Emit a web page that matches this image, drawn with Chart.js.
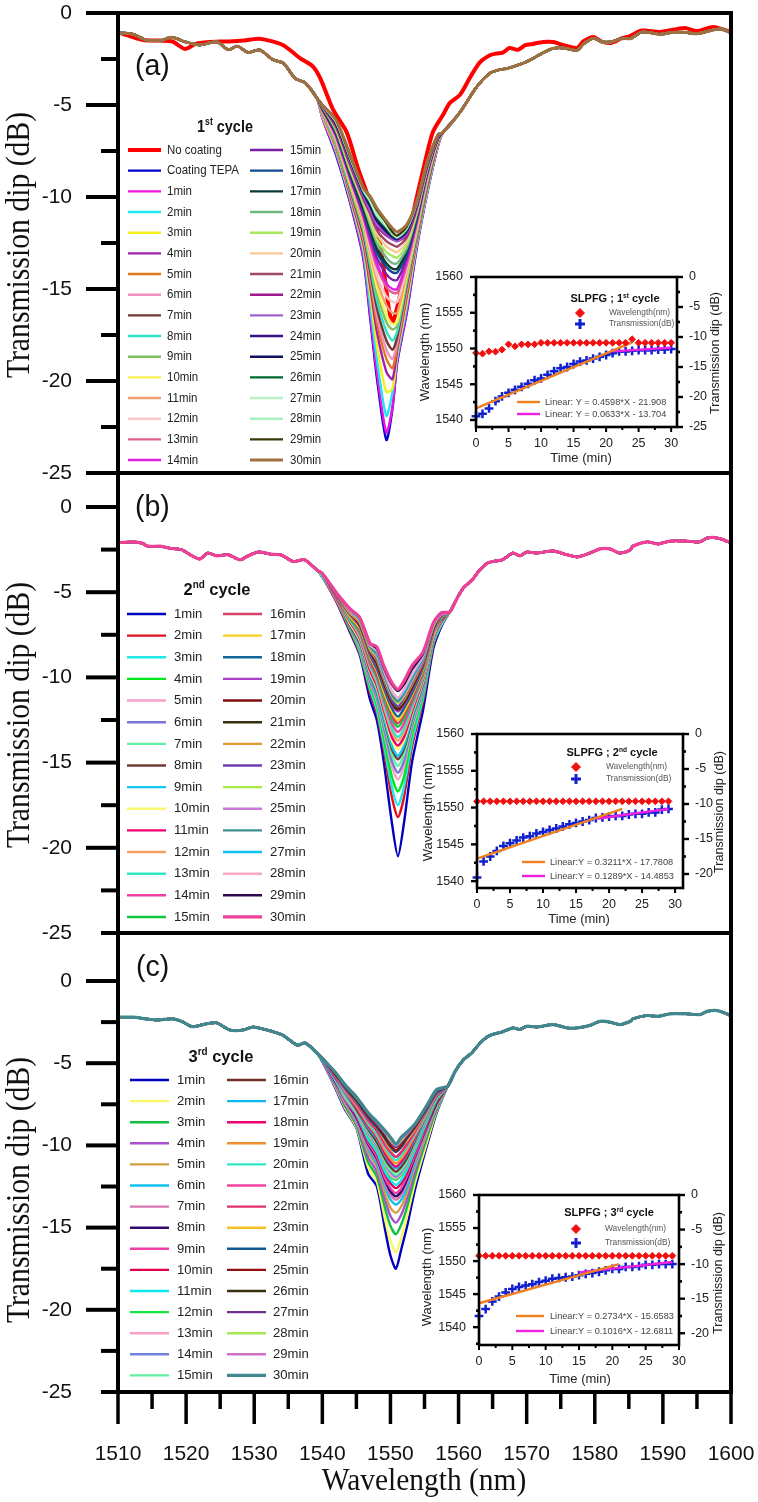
<!DOCTYPE html>
<html>
<head>
<meta charset="utf-8">
<title>SLPFG transmission dip</title>
<script src="https://cdn.jsdelivr.net/npm/chart.js@4/dist/chart.umd.min.js"></script>
<style>
html,body{margin:0;padding:0;background:#fff}
#wrap{position:relative;width:758px;height:1502px;overflow:hidden}
canvas{position:absolute;left:0;top:0}
</style>
</head>
<body>
<div id="wrap"></div>
<script>
// values. the curves inside the dense bundles
// overlap, so only their depth (from the insets) and the outer edges are really readable
const yTicks = [-25,-22.5,-20,-17.5,-15,-12.5,-10,-7.5,-5,-2.5,0];
const xTicks = [1510,1515,1520,1525,1530,1535,1540,1545,1550,1555,1560,1565,1570,1575,1580,1585,1590,1595,1600];
const insetWlTicks = [1537.5,1540,1542.5,1545,1547.5,1550,1552.5,1555,1557.5,1560];
const insetDipTicks = [-25,-22.5,-20,-17.5,-15,-12.5,-10,-7.5,-5,-2.5,0];
const insetTimeTicks = [0,2.5,5,7.5,10,12.5,15,17.5,20,22.5,25,27.5,30];

// ---- panel a
const labelsA = ['No coating','Coating TEPA','1min','2min','3min','4min','5min','6min','7min','8min','9min','10min','11min','12min','13min','14min','15min','16min','17min','18min','19min','20min','21min','22min','23min','24min','25min','26min','27min','28min','29min','30min'];
const colorsA = ['#ff0000','#0000cc','#f012e0','#22e6f0','#f4f020','#a020b0','#e07820','#f090c0','#6b3a30','#30e0c8','#80c060','#f8f050','#f0a070','#f8c8c8','#e06090','#e020e0','#7a20a0','#104a90','#083a38','#70b880','#a8e860','#f8c898','#a04868','#a01890','#a060d0','#38108a','#101060','#006830','#b8f0c8','#a8f0c0','#383808','#a07040'];
const wlLeftA = [1510,1512.2,1514.2,1516.2,1517.9,1519.8,1522,1524.5,1526.2,1527.5,1529.1,1530.8,1532.8,1534.3,1536,1537.5,1539.2];
const leftA = [-1.07,-1.15,-1.47,-1.5,-1.32,-1.56,-1.74,-1.56,-2,-1.8,-2.15,-2,-2.55,-2.73,-3.55,-3.8,-4.62];
const wlDipA = [1540,1542,1544,1546,1547,1548,1549.4,1550.3,1551,1552.4,1553.9,1555.4,1557];
const wlRightA = [1557.7,1560.2,1562.7,1564.6,1565.8,1567.3,1569.5,1571,1572.5,1573.9,1575.4,1577.4,1578.3,1579.8,1581,1582.5,1584,1585.2,1586.9,1588.6,1589.6,1591.5,1593.2,1595,1597.4,1598.7,1600];
const rightA = [-6.5,-5.4,-4,-3.27,-3.1,-3,-2.73,-2.45,-2.14,-1.92,-1.9,-2.03,-1.7,-1.37,-1.56,-1.56,-1.37,-1.4,-1.04,-1.1,-1.16,-1.05,-1.05,-1.13,-0.92,-0.87,-1.08];
const wlRedA = [1510,1513.7,1516,1518,1519.8,1521.6,1525,1526.4,1528.5,1530.8,1534.2,1536.7,1538.6,1539.7,1541.6,1543.6,1545.2,1547,1548.6,1550.2,1551.7,1553,1554.5,1556.2,1557.7,1558.7,1560.2,1561.7,1563.1,1564.6,1565.6,1566.5,1567.5,1568.7,1569.8,1570.9,1572.4,1573.9,1575.4,1577.4,1578.3,1579.8,1581,1582.5,1584,1585.2,1586.9,1589.6,1593.2,1595,1597.4,1600];
const redA = [-1.05,-1.47,-1.5,-1.55,-1.95,-1.65,-1.55,-1.55,-1.5,-1.4,-1.74,-2.45,-2.9,-3.55,-5.27,-6.5,-8.4,-10.3,-12.8,-16.8,-14.8,-11.5,-9,-6.5,-5.55,-4.9,-4.45,-3.5,-2.7,-2.3,-2.2,-2.15,-1.9,-2,-1.75,-1.68,-1.58,-1.58,-1.75,-1.9,-1.55,-1.3,-1.56,-1.62,-1.37,-1.25,-0.95,-1.03,-0.82,-0.98,-0.76,-1.03];
const dipA = [
[-5.7,-7.7,-10.2,-13.3,-16.5,-19.8,-23.2,-21.5,-19.0,-16.3,-12.7,-9.8,-7.2],
[-5.7,-7.6,-10.1,-13.2,-16.3,-19.5,-22.8,-21.4,-18.9,-16.2,-12.6,-9.7,-7.2],
[-5.6,-7.5,-10.0,-12.9,-15.8,-18.8,-21.9,-20.6,-18.7,-15.9,-12.5,-9.7,-7.1],
[-5.6,-7.4,-9.9,-12.7,-15.2,-18.0,-20.6,-20.4,-18.5,-15.7,-12.4,-9.6,-7.1],
[-5.5,-7.3,-9.8,-12.5,-14.8,-17.3,-19.5,-19.9,-18.3,-15.4,-12.3,-9.5,-7.0],
[-5.5,-7.3,-9.7,-12.3,-14.5,-16.8,-18.8,-19.3,-18.1,-15.2,-12.2,-9.4,-7.0],
[-5.5,-7.2,-9.6,-12.2,-14.2,-16.4,-18.3,-18.8,-17.9,-15.0,-12.1,-9.3,-7.0],
[-5.4,-7.1,-9.5,-12.0,-14.0,-16.0,-17.8,-18.3,-17.6,-14.8,-12.0,-9.3,-7.0],
[-5.4,-7.1,-9.4,-11.8,-13.7,-15.6,-17.3,-17.8,-17.3,-14.6,-11.9,-9.2,-6.9],
[-5.4,-7.0,-9.3,-11.7,-13.5,-15.2,-16.8,-17.2,-17.0,-14.4,-11.8,-9.1,-6.9],
[-5.3,-6.9,-9.2,-11.5,-13.2,-14.9,-16.4,-16.9,-16.8,-14.3,-11.7,-9.0,-6.9],
[-5.3,-6.9,-9.1,-11.4,-13.0,-14.5,-15.9,-16.3,-16.3,-14.1,-11.6,-9.0,-6.9],
[-5.3,-6.8,-9.0,-11.2,-12.8,-14.2,-15.4,-15.7,-15.7,-13.9,-11.5,-8.9,-6.9],
[-5.3,-6.7,-8.9,-11.1,-12.5,-13.8,-14.9,-15.2,-15.2,-13.7,-11.4,-8.8,-6.8],
[-5.2,-6.7,-8.9,-11.0,-12.4,-13.6,-14.7,-15.0,-15.0,-13.5,-11.3,-8.8,-6.8],
[-5.2,-6.6,-8.8,-10.9,-12.1,-13.3,-14.2,-14.5,-14.5,-13.3,-11.2,-8.7,-6.8],
[-5.2,-6.5,-8.7,-10.7,-11.9,-13.0,-13.8,-14.1,-14.1,-13.1,-11.1,-8.6,-6.8],
[-5.2,-6.5,-8.6,-10.6,-11.7,-12.8,-13.6,-13.9,-13.9,-12.9,-11.0,-8.6,-6.8],
[-5.1,-6.4,-8.5,-10.4,-11.5,-12.5,-13.3,-13.6,-13.6,-12.8,-10.9,-8.5,-6.7],
[-5.1,-6.3,-8.4,-10.3,-11.3,-12.3,-13.0,-13.2,-13.3,-12.6,-10.8,-8.5,-6.7],
[-5.1,-6.2,-8.3,-10.2,-11.1,-12.0,-12.7,-12.9,-13.0,-12.4,-10.7,-8.4,-6.7],
[-5.1,-6.2,-8.2,-10.1,-10.9,-11.8,-12.4,-12.6,-12.7,-12.2,-10.6,-8.4,-6.7],
[-5.0,-6.1,-8.1,-10.0,-10.8,-11.6,-12.1,-12.3,-12.4,-12.1,-10.5,-8.3,-6.7],
[-5.0,-6.0,-8.0,-9.9,-10.7,-11.5,-12.0,-12.3,-12.4,-12.0,-10.4,-8.3,-6.6],
[-5.0,-6.0,-7.9,-9.8,-10.5,-11.3,-11.9,-12.2,-12.3,-11.9,-10.4,-8.2,-6.6],
[-5.0,-6.0,-7.9,-9.7,-10.4,-11.2,-11.8,-12.1,-12.2,-11.8,-10.3,-8.2,-6.6],
[-5.0,-5.9,-7.8,-9.7,-10.3,-11.1,-11.7,-12.1,-12.2,-11.8,-10.3,-8.2,-6.6],
[-5.0,-5.9,-7.8,-9.6,-10.2,-11.0,-11.6,-12.0,-12.2,-11.7,-10.3,-8.1,-6.6],
[-5.0,-5.9,-7.7,-9.6,-10.2,-10.9,-11.5,-12.0,-12.1,-11.7,-10.2,-8.1,-6.6],
[-5.0,-5.8,-7.7,-9.5,-10.0,-10.7,-11.4,-11.9,-12.1,-11.6,-10.2,-8.1,-6.6],
[-5.0,-5.8,-7.6,-9.5,-9.95,-10.6,-11.3,-11.7,-11.9,-11.5,-10.2,-8.1,-6.6]
];

// ---- panel b
const labelsB = ['1min','2min','3min','4min','5min','6min','7min','8min','9min','10min','11min','12min','13min','14min','15min','16min','17min','18min','19min','20min','21min','22min','23min','24min','25min','26min','27min','28min','29min','30min'];
const colorsB = ['#0000c0','#e01020','#20e8e8','#00e820','#f8a0c8','#7878d8','#60f0a0','#703c38','#10c8f0','#f8f870','#f00070','#f8a060','#30e8c8','#f040a0','#10c840','#d84068','#f8d020','#106898','#a840c8','#801010','#383010','#e09830','#7040b0','#a8e840','#c878d8','#409090','#10c0f0','#f8a8c8','#300850','#f04098'];
const wlLeftB = [1510,1511.8,1513.5,1514.4,1516.2,1517.6,1519.4,1520.6,1522,1523.2,1524.5,1526.2,1527.9,1529.1,1530.6,1532.3,1534,1535.7,1537.4,1539.2];
const leftB = [-2.1,-2.05,-2.12,-2.3,-2.3,-2.42,-2.52,-2.8,-3.05,-2.7,-2.87,-2.8,-3.1,-2.87,-2.64,-2.76,-2.82,-3.2,-3.1,-3.7];
const wlDipB = [1540,1542,1544,1545.5,1547,1548,1549,1550.2,1551.1,1552,1553.2,1554.8,1556.3,1557.5];
const wlRightB = [1558.7,1559.8,1560.7,1562,1563.1,1564.2,1565,1566.4,1568,1569,1570,1571.5,1573.9,1575.9,1577.5,1579.3,1580.8,1582.2,1583.7,1585.2,1585.6,1587.7,1589.3,1591,1593.5,1595.4,1596.5,1598,1600];
const rightB = [-6.16,-5.34,-4.75,-4.28,-3.7,-3.3,-3.2,-3.1,-2.7,-2.87,-2.64,-2.7,-2.58,-2.8,-2.93,-2.7,-2.46,-2.46,-2.7,-2.52,-2.3,-2.05,-2.17,-2,-2,-2.05,-1.82,-1.82,-2.1];
const dipB = [
[-4.1,-5.5,-7.3,-8.7,-11.3,-12.5,-14.9,-18.5,-20.5,-18.5,-14.9,-11.9,-8.3,-7.0],
[-4.1,-5.5,-7.2,-8.6,-10.9,-12.1,-14.2,-17.0,-18.2,-17.0,-14.0,-11.4,-8.1,-6.9],
[-4.1,-5.4,-7.1,-8.5,-10.7,-11.9,-13.9,-16.4,-17.5,-16.4,-13.7,-11.2,-8.0,-6.9],
[-4.0,-5.4,-7.1,-8.4,-10.5,-11.6,-13.5,-15.8,-16.7,-15.8,-13.3,-11.0,-7.9,-6.8],
[-4.0,-5.4,-7.0,-8.3,-10.3,-11.4,-13.1,-15.2,-16.0,-15.2,-13.0,-10.8,-7.8,-6.8],
[-4.0,-5.4,-7.0,-8.2,-10.2,-11.2,-12.9,-14.9,-15.6,-14.9,-12.8,-10.7,-7.8,-6.7],
[-4.0,-5.3,-6.9,-8.1,-10.0,-11.0,-12.6,-14.5,-15.2,-14.5,-12.6,-10.5,-7.7,-6.7],
[-4.0,-5.3,-6.9,-8.0,-9.9,-10.9,-12.4,-14.2,-14.8,-14.2,-12.4,-10.4,-7.7,-6.7],
[-4.0,-5.3,-6.8,-7.9,-9.8,-10.8,-12.3,-14.0,-14.6,-14.0,-12.3,-10.3,-7.6,-6.6],
[-4.0,-5.3,-6.8,-7.8,-9.7,-10.6,-12.0,-13.7,-14.2,-13.7,-12.1,-10.2,-7.6,-6.6],
[-4.0,-5.3,-6.7,-7.7,-9.6,-10.5,-11.9,-13.5,-14.0,-13.5,-12.0,-10.1,-7.5,-6.6],
[-4.0,-5.2,-6.6,-7.6,-9.4,-10.3,-11.7,-13.2,-13.7,-13.2,-11.8,-10.0,-7.5,-6.5],
[-4.0,-5.2,-6.6,-7.5,-9.3,-10.2,-11.5,-13.0,-13.5,-13.0,-11.7,-9.9,-7.4,-6.5],
[-3.9,-5.2,-6.5,-7.4,-9.2,-10.0,-11.3,-12.7,-13.2,-12.7,-11.5,-9.8,-7.4,-6.5],
[-3.9,-5.2,-6.5,-7.3,-9.0,-9.9,-11.1,-12.4,-12.9,-12.4,-11.3,-9.7,-7.3,-6.5],
[-3.9,-5.2,-6.4,-7.2,-8.9,-9.8,-10.9,-12.2,-12.7,-12.2,-11.2,-9.6,-7.3,-6.4],
[-3.9,-5.1,-6.4,-7.1,-8.8,-9.6,-10.8,-12.0,-12.5,-12.0,-11.0,-9.5,-7.2,-6.4],
[-3.9,-5.1,-6.3,-7.0,-8.7,-9.5,-10.6,-11.8,-12.3,-11.8,-10.9,-9.4,-7.2,-6.4],
[-3.9,-5.1,-6.3,-7.0,-8.6,-9.3,-10.4,-11.6,-12.0,-11.6,-10.7,-9.3,-7.1,-6.4],
[-3.9,-5.1,-6.2,-6.9,-8.5,-9.2,-10.3,-11.5,-11.9,-11.5,-10.6,-9.2,-7.1,-6.3],
[-3.9,-5.1,-6.2,-6.8,-8.4,-9.1,-10.2,-11.4,-11.8,-11.4,-10.5,-9.1,-7.1,-6.3],
[-3.9,-5.1,-6.2,-6.8,-8.4,-9.0,-10.1,-11.3,-11.7,-11.3,-10.4,-9.1,-7.0,-6.3],
[-3.9,-5.1,-6.1,-6.7,-8.3,-8.9,-10.0,-11.3,-11.7,-11.2,-10.3,-9.0,-7.0,-6.3],
[-3.9,-5.0,-6.1,-6.7,-8.3,-8.8,-9.9,-11.1,-11.5,-11.1,-10.2,-8.9,-7.0,-6.3],
[-3.9,-5.0,-6.1,-6.6,-8.2,-8.7,-9.8,-11.0,-11.4,-11.0,-10.1,-8.9,-6.9,-6.3],
[-3.9,-5.0,-6.0,-6.6,-8.2,-8.6,-9.7,-11.0,-11.4,-10.9,-10.0,-8.8,-6.9,-6.2],
[-3.9,-5.0,-6.0,-6.6,-8.1,-8.5,-9.6,-10.8,-11.2,-10.8,-9.9,-8.8,-6.9,-6.2],
[-3.9,-5.0,-6.0,-6.5,-8.1,-8.4,-9.5,-10.8,-11.2,-10.7,-9.8,-8.7,-6.9,-6.2],
[-3.9,-5.0,-5.95,-6.5,-8.0,-8.3,-9.4,-10.4,-10.8,-10.4,-9.5,-8.6,-6.8,-6.2],
[-3.9,-5.0,-5.95,-6.5,-8.0,-8.2,-9.3,-10.3,-10.7,-10.2,-9.3,-8.5,-6.8,-6.2]
];

// ---- panel c
const labelsC = labelsB.slice();
const colorsC = ['#0000c0','#f8f860','#10c040','#a850d0','#d0a040','#10c0f0','#d878b0','#300870','#f040a8','#e00050','#10e8f0','#10e840','#f8a0c8','#7080e0','#60f0a0','#703028','#10b8f0','#f00070','#f09030','#30e8c8','#f040a0','#e03070','#f8c020','#105890','#901010','#383010','#703090','#a8e850','#d070c8','#408890'];
const wlLeftC = [1510,1512.2,1514,1515.9,1517.9,1519.4,1520.9,1523,1524.5,1526.4,1528.4,1529.8,1531.9,1534.2,1536.3,1537.5,1539.2];
const leftC = [-2.2,-2.2,-2.3,-2.37,-2.3,-2.47,-2.78,-2.6,-2.55,-2.98,-2.98,-2.8,-2.98,-3.3,-3.9,-3.77,-4.38];
const wlDipC = [1540,1542,1543.3,1545,1546.7,1548,1549.2,1550,1550.8,1551.6,1552.4,1553.6,1555.3,1556.8];
const wlRightC = [1558.4,1559.5,1560.7,1562,1563.1,1564.2,1565,1566.4,1568,1569,1570,1571.5,1573.9,1575.9,1577.5,1579.3,1580.8,1582.2,1583.7,1585.2,1585.6,1587.7,1589.3,1591,1593.5,1595.4,1596.5,1598,1600];
const rightC = [-6.4,-5.5,-4.8,-4.35,-3.8,-3.4,-3.25,-3.1,-2.85,-2.95,-2.75,-2.8,-2.65,-2.85,-2.85,-2.7,-2.45,-2.5,-2.65,-2.45,-2.3,-2.1,-2.15,-2,-2,-2.05,-1.85,-1.8,-2.1];
const dipC = [
[-4.9,-6.6,-7.8,-8.95,-11.7,-12.5,-15.1,-16.7,-17.5,-16.3,-15.0,-12.7,-10.1,-8.0],
[-4.9,-6.5,-7.7,-8.9,-11.3,-12.2,-14.5,-15.8,-16.5,-15.6,-14.4,-12.3,-9.9,-7.9],
[-4.9,-6.4,-7.6,-8.8,-11.0,-11.9,-13.8,-14.9,-15.4,-14.8,-13.8,-11.9,-9.6,-7.8],
[-4.9,-6.4,-7.5,-8.7,-10.7,-11.6,-13.3,-14.3,-14.7,-14.2,-13.3,-11.6,-9.4,-7.7],
[-4.8,-6.3,-7.4,-8.6,-10.4,-11.3,-12.9,-13.8,-14.1,-13.7,-12.9,-11.3,-9.3,-7.6],
[-4.8,-6.2,-7.3,-8.5,-10.2,-11.1,-12.5,-13.3,-13.6,-13.3,-12.6,-11.1,-9.1,-7.5],
[-4.8,-6.2,-7.3,-8.4,-10.1,-10.9,-12.3,-13.0,-13.3,-13.0,-12.3,-10.9,-9.0,-7.4],
[-4.8,-6.2,-7.2,-8.3,-9.9,-10.8,-12.1,-12.8,-13.1,-12.8,-12.1,-10.7,-8.9,-7.4],
[-4.8,-6.1,-7.2,-8.2,-9.8,-10.7,-12.0,-12.6,-12.9,-12.6,-11.9,-10.6,-8.8,-7.3],
[-4.8,-6.1,-7.1,-8.2,-9.7,-10.5,-11.7,-12.3,-12.6,-12.3,-11.7,-10.4,-8.7,-7.3],
[-4.8,-6.1,-7.1,-8.1,-9.6,-10.4,-11.6,-12.1,-12.4,-12.1,-11.5,-10.3,-8.6,-7.2],
[-4.8,-6.0,-7.0,-8.0,-9.4,-10.2,-11.3,-11.9,-12.1,-11.8,-11.3,-10.1,-8.5,-7.2],
[-4.8,-6.0,-7.0,-8.0,-9.3,-10.1,-11.2,-11.8,-12.0,-11.7,-11.2,-10.0,-8.4,-7.1],
[-4.8,-6.0,-6.9,-7.9,-9.2,-10.0,-11.1,-11.6,-11.9,-11.6,-11.1,-9.9,-8.4,-7.1],
[-4.8,-5.9,-6.9,-7.9,-9.1,-9.9,-11.0,-11.5,-11.8,-11.5,-11.0,-9.8,-8.3,-7.1],
[-4.8,-5.9,-6.8,-7.8,-9.0,-9.8,-10.8,-11.3,-11.6,-11.3,-10.8,-9.7,-8.2,-7.0],
[-4.8,-5.9,-6.8,-7.7,-8.9,-9.6,-10.6,-11.1,-11.4,-11.1,-10.6,-9.6,-8.2,-7.0],
[-4.7,-5.9,-6.7,-7.7,-8.8,-9.5,-10.5,-11.0,-11.3,-11.0,-10.5,-9.5,-8.1,-7.0],
[-4.7,-5.8,-6.7,-7.6,-8.7,-9.4,-10.3,-10.8,-11.1,-10.8,-10.3,-9.4,-8.1,-6.9],
[-4.7,-5.8,-6.6,-7.5,-8.6,-9.3,-10.1,-10.6,-10.9,-10.6,-10.1,-9.3,-8.0,-6.9],
[-4.7,-5.8,-6.6,-7.5,-8.5,-9.1,-10.0,-10.4,-10.7,-10.4,-10.0,-9.2,-7.9,-6.9],
[-4.7,-5.8,-6.5,-7.4,-8.4,-9.1,-9.9,-10.4,-10.7,-10.4,-9.9,-9.1,-7.9,-6.8],
[-4.7,-5.7,-6.5,-7.3,-8.3,-8.9,-9.7,-10.2,-10.4,-10.1,-9.7,-9.0,-7.8,-6.8],
[-4.7,-5.7,-6.5,-7.3,-8.3,-8.9,-9.6,-10.1,-10.4,-10.1,-9.6,-8.9,-7.8,-6.8],
[-4.7,-5.7,-6.4,-7.2,-8.2,-8.8,-9.5,-10.0,-10.3,-10.0,-9.5,-8.9,-7.7,-6.7],
[-4.7,-5.7,-6.4,-7.2,-8.1,-8.7,-9.4,-9.8,-10.1,-9.8,-9.4,-8.8,-7.7,-6.7],
[-4.7,-5.6,-6.4,-7.1,-8.1,-8.7,-9.3,-9.8,-10.1,-9.8,-9.4,-8.8,-7.7,-6.7],
[-4.7,-5.6,-6.3,-7.1,-8.0,-8.6,-9.2,-9.7,-10.0,-9.7,-9.3,-8.7,-7.6,-6.6],
[-4.7,-5.6,-6.3,-7.05,-8.0,-8.6,-9.2,-9.6,-10.0,-9.6,-9.3,-8.7,-7.6,-6.6],
[-4.7,-5.6,-6.3,-7.05,-8.0,-8.55,-9.1,-9.5,-9.9,-9.5,-9.2,-8.7,-7.6,-6.6]
];

// ---- insets
const timeA = [0,1,2,3,4,5,6,7,8,9,10,11,12,13,14,15,16,17,18,19,20,21,22,23,24,25,26,27,28,29,30];
const wlInA = [1549.37,1549.28,1549.6,1549.56,1549.84,1550.58,1550.3,1550.58,1550.58,1550.58,1550.8,1550.8,1550.8,1550.8,1550.8,1550.8,1550.8,1550.8,1550.8,1550.8,1550.8,1550.8,1550.8,1550.8,1551.3,1550.8,1550.8,1550.8,1550.8,1550.8,1550.8];
const dipInA = [-23.2,-22.8,-21.9,-20.7,-19.9,-19.3,-18.8,-18.3,-17.8,-17.2,-16.9,-16.3,-15.7,-15.2,-15,-14.5,-14.1,-13.9,-13.6,-13.3,-13,-12.7,-12.4,-12.4,-12.3,-12.2,-12.2,-12.2,-12.1,-12.1,-12];
const fit1XA = [0,24], fit1YA = [-21.9,-10.9], fit2XA = [21,30], fit2YA = [-12.4,-11.8];

const timeB = [0,1,2,3,4,5,6,7,8,9,10,11,12,13,14,15,16,17,18,19,20,21,22,23,24,25,26,27,28,29];
const wlInB = [1550.85,1550.85,1550.85,1550.85,1550.85,1550.85,1550.85,1550.85,1550.85,1550.85,1550.85,1550.85,1550.85,1550.85,1550.85,1550.85,1550.85,1550.85,1550.85,1550.85,1550.85,1550.85,1550.85,1550.85,1550.85,1550.85,1550.85,1550.85,1550.85,1550.85];
const dipInB = [-20.5,-18.2,-17.5,-16.7,-16,-15.6,-15.2,-14.8,-14.6,-14.2,-14,-13.7,-13.5,-13.2,-12.9,-12.7,-12.5,-12.3,-12,-11.9,-11.8,-11.7,-11.7,-11.5,-11.4,-11.4,-11.2,-11.2,-10.8,-10.7];
const fit1XB = [0,22], fit1YB = [-17.8,-10.7], fit2XB = [18,29], fit2YB = [-12.1,-10.7];

const timeC = timeB.slice();
const wlInC = [1550.8,1550.8,1550.8,1550.8,1550.8,1550.8,1550.8,1550.8,1550.8,1550.8,1550.8,1550.8,1550.8,1550.8,1550.8,1550.8,1550.8,1550.8,1550.8,1550.8,1550.8,1550.8,1550.8,1550.8,1550.8,1550.8,1550.8,1550.8,1550.8,1550.8];
const dipInC = [-17.5,-16.5,-15.4,-14.7,-14.1,-13.6,-13.3,-13.1,-12.9,-12.6,-12.4,-12.1,-12,-11.9,-11.8,-11.6,-11.4,-11.3,-11.1,-10.9,-10.7,-10.7,-10.4,-10.4,-10.3,-10.1,-10.1,-10,-10,-10];
const fit1XC = [0,21], fit1YC = [-15.66,-10], fit2XC = [15,29], fit2YC = [-11.2,-9.7];

const SANS = '"Liberation Sans", Arial, sans-serif';
const SERIF = '"Liberation Serif", "Times New Roman", serif';

function txt(ctx, s, x, y, font, o) {
  o = o || {};
  ctx.save();
  ctx.translate(x, y);
  if (o.rot) ctx.rotate(o.rot);
  ctx.scale(o.sx || 1, o.sy || 1);
  ctx.font = font;
  ctx.fillStyle = o.color || '#111';
  ctx.textAlign = o.align || 'left';
  ctx.textBaseline = 'middle';
  ctx.fillText(s, 0, 0);
  ctx.restore();
}

// "1st cycle" style title, centred on cx
function supTitle(ctx, parts, cx, cy, size, sx) {
  ctx.save();
  ctx.font = 'bold ' + size + 'px ' + SANS;
  const w1 = ctx.measureText(parts[0]).width, w3 = ctx.measureText(parts[2]).width;
  ctx.font = 'bold ' + (size * 0.6) + 'px ' + SANS;
  const w2 = ctx.measureText(parts[1]).width;
  ctx.restore();
  let x = cx - (w1 + w2 + w3) * sx / 2;
  txt(ctx, parts[0], x, cy, 'bold ' + size + 'px ' + SANS, {sx: sx});
  x += w1 * sx;
  txt(ctx, parts[1], x, cy - size * 0.3, 'bold ' + (size * 0.6) + 'px ' + SANS, {sx: sx});
  x += w2 * sx;
  txt(ctx, parts[2], x, cy, 'bold ' + size + 'px ' + SANS, {sx: sx});
}

function hline(ctx, x1, x2, y, w, c) {
  ctx.strokeStyle = c || '#000'; ctx.lineWidth = w;
  ctx.beginPath(); ctx.moveTo(x1, y); ctx.lineTo(x2, y); ctx.stroke();
}
function vline(ctx, x, y1, y2, w, c) {
  ctx.strokeStyle = c || '#000'; ctx.lineWidth = w;
  ctx.beginPath(); ctx.moveTo(x, y1); ctx.lineTo(x, y2); ctx.stroke();
}

const panelPlugin = {
  id: 'panelDecor',
  afterDatasetsDraw(chart, args, o) {
    const ctx = chart.ctx, a = chart.chartArea, sy = chart.scales.y, sx = chart.scales.x;
    ctx.save();
    ctx.lineCap = 'butt';
    // frame
    vline(ctx, a.left, a.top - 2, a.bottom + 2, 4);
    vline(ctx, a.right, a.top - 2, a.bottom + 2, 4);
    hline(ctx, a.left, a.right + 2, a.bottom, 4);
    if (o.topLine) hline(ctx, a.left, a.right + 2, a.top, 4);
    yTicks.forEach(v => {
      const y = sy.getPixelForValue(v);
      const major = v % 5 === 0 && !(v === -25 && o.shortBottom);
      hline(ctx, major ? 86 : 101, a.left, y, 4);
    });
    if (o.xAxis) {
      xTicks.forEach(v => {
        const x = sx.getPixelForValue(v);
        vline(ctx, x, a.bottom, a.bottom + (v % 10 === 0 ? 32 : 17), 3.5);
      });
      txt(ctx, 'Wavelength (nm)', 424, 1482, '32px ' + SERIF, {align: 'center', sx: 0.92});
    }
    txt(ctx, 'Transmission dip (dB)', 20, o.titleY, '33px ' + SERIF, {align: 'center', rot: -Math.PI / 2, sx: 0.9});
    txt(ctx, o.tag, o.tagX, o.tagY, '30px ' + SANS, {sx: 0.95});
    // legend built from the datasets
    supTitle(ctx, o.cycle, o.cycleX, o.cycleY, o.cycleSize, o.textSx);
    chart.data.datasets.forEach((d, i) => {
      const col = i < o.rows ? o.col1 : o.col2;
      const y = o.rowY + (i % o.rows) * o.rowH;
      hline(ctx, col[0], col[1], y, d.borderWidth, d.borderColor);
      txt(ctx, d.label, col[2], y, o.textSize + 'px ' + SANS, {sx: o.textSx, color: '#222'});
    });
    ctx.restore();
  }
};

const insetPlugin = {
  id: 'insetDecor',
  afterDatasetsDraw(chart, args, o) {
    const ctx = chart.ctx, a = chart.chartArea, s = chart.scales;
    ctx.save();
    ctx.strokeStyle = '#000'; ctx.lineWidth = 2.6;
    ctx.strokeRect(a.left, a.top, a.right - a.left, a.bottom - a.top);
    insetWlTicks.forEach(v => {
      const y = s.y.getPixelForValue(v);
      if (y > a.bottom + 1) return;
      if (v % 5 === 0) hline(ctx, a.left - 6, a.left, y, 2.4);
      else hline(ctx, a.left - 3, a.left, y, 2.6);
    });
    insetDipTicks.forEach(v => {
      const y = s.y2.getPixelForValue(v);
      if (y > a.bottom + 1) return;
      if (v % 5 === 0) hline(ctx, a.right, a.right + 6, y, 2.4);
      else hline(ctx, a.right, a.right + 3, y, 2.6);
    });
    insetTimeTicks.forEach(v => {
      const x = s.x.getPixelForValue(v);
      vline(ctx, x, a.bottom, a.bottom + (v % 5 === 0 ? 5 : 3), 2);
    });
    txt(ctx, 'Wavelength (nm)', o.leftX, o.leftY, '13px ' + SANS, {align: 'center', rot: -Math.PI / 2, color: '#222'});
    txt(ctx, 'Transmission dip (dB)', o.rightX, o.rightY, '12.6px ' + SANS, {align: 'center', rot: -Math.PI / 2, color: '#222'});
    txt(ctx, 'Time (min)', o.timeX, o.timeY, '13px ' + SANS, {align: 'center', color: '#222'});
    supTitle(ctx, o.cycle, o.cycleX, o.cycleY, 11, 1);
    const red = chart.data.datasets[3], blue = chart.data.datasets[2];
    ctx.fillStyle = red.backgroundColor; ctx.strokeStyle = red.borderColor; ctx.lineWidth = 1;
    Chart.helpers.drawPoint(ctx, {pointStyle: 'rectRot', radius: 4.5, borderWidth: 1, rotation: 0}, o.markX, o.markY[0]);
    ctx.strokeStyle = blue.borderColor; ctx.lineWidth = 3;
    Chart.helpers.drawPoint(ctx, {pointStyle: 'cross', radius: 5, borderWidth: 3, rotation: 0}, o.markX, o.markY[1]);
    txt(ctx, 'Wavelength(nm)', o.labX, o.markY[0], '8.4px ' + SANS, {color: '#555'});
    txt(ctx, 'Transmission(dB)', o.labX, o.markY[1], '8.4px ' + SANS, {color: '#555'});
    hline(ctx, o.lineX[0], o.lineX[1], o.lineY[0], 2.4, '#f08020');
    hline(ctx, o.lineX[0], o.lineX[1], o.lineY[1], 2.4, '#f020e0');
    txt(ctx, o.fits[0], o.fitX, o.lineY[0], '9.2px ' + SANS, {color: '#444'});
    txt(ctx, o.fits[1], o.fitX, o.lineY[1], '9.2px ' + SANS, {color: '#444'});
    ctx.restore();
  }
};

function newCanvas() {
  const c = document.createElement('canvas');
  c.width = 758; c.height = 1502;
  c.style.width = '758px'; c.style.height = '1502px';
  document.getElementById('wrap').appendChild(c);
  return c;
}

// pin a scale to a fixed size so the chart area lands where the figure has it.
// the padding has to go too or long tick paddings push the plot area inwards
function pinScale(size) {
  return s => {
    if (s.isHorizontal()) s.height = size; else s.width = size;
    s.paddingLeft = s.paddingRight = s.paddingTop = s.paddingBottom = 0;
  };
}

function pts(xs, ys) { return xs.map((x, i) => ({x: x, y: ys[i]})); }

function curve(wlL, valL, wlD, valD, wlR, valR) {
  return pts(wlL.concat(wlD, wlR), valL.concat(valD, valR));
}

function mainChart(px, datasets, decor) {
  const N = datasets.length;
  datasets.forEach((d, i) => { d.order = N - i; });
  new Chart(newCanvas(), {
    type: 'line',
    data: {datasets: datasets},
    plugins: [panelPlugin],
    options: {
      responsive: false, animation: false, devicePixelRatio: 1,
      layout: {padding: {left: 0, right: 27, top: px.top, bottom: 0}},
      elements: {point: {radius: 0}, line: {tension: 0.25, borderCapStyle: 'round', borderJoinStyle: 'round'}},
      plugins: {legend: {display: false}, tooltip: {enabled: false}, panelDecor: decor},
      scales: {
        x: {type: 'linear', min: 1510, max: 1600, afterFit: pinScale(1502 - px.bottom),
            afterBuildTicks: s => { s.ticks = xTicks.filter(v => v % 10 === 0).map(v => ({value: v})); },
            grid: {display: false, drawTicks: false}, border: {display: false},
            ticks: {display: !!decor.xAxis, padding: 50, autoSkip: false, maxRotation: 0, color: '#111', font: {family: SANS, size: 21}, callback: v => String(v)}},
        y: {type: 'linear', min: -25, max: px.ymax, afterFit: pinScale(118),
            afterBuildTicks: s => { s.ticks = yTicks.filter(v => v % 5 === 0).map(v => ({value: v})); },
            grid: {display: false, drawTicks: false}, border: {display: false},
            ticks: {padding: 46, autoSkip: false, color: '#111', font: {family: SANS, size: 21}}}
      }
    }
  });
}

function insetChart(px, time, wl, dip, fit1x, fit1y, fit2x, fit2y, decor) {
  new Chart(newCanvas(), {
    type: 'scatter',
    data: {datasets: [
      {label: 'Linear1', data: pts(fit1x, fit1y), yAxisID: 'y2', showLine: true, borderColor: '#f08020', borderWidth: 2.4, pointRadius: 0, order: 1},
      {label: 'Linear2', data: pts(fit2x, fit2y), yAxisID: 'y2', showLine: true, borderColor: '#f020e0', borderWidth: 2.4, pointRadius: 0, order: 2},
      {label: 'Transmission(dB)', data: pts(time, dip), yAxisID: 'y2', pointStyle: 'cross', pointRadius: 4.4, pointBorderWidth: 2.5, borderColor: '#1020d0', backgroundColor: '#1020d0', order: 3},
      {label: 'Wavelength(nm)', data: pts(time, wl), yAxisID: 'y', pointStyle: 'rectRot', pointRadius: 3.4, borderColor: '#f01010', backgroundColor: '#f01010', order: 0}
    ]},
    plugins: [insetPlugin],
    options: {
      responsive: false, animation: false, devicePixelRatio: 1,
      clip: false,
      layout: {padding: {left: 0, right: 0, top: px.top, bottom: 0}},
      plugins: {legend: {display: false}, tooltip: {enabled: false}, insetDecor: decor},
      scales: {
        x: {type: 'linear', min: 0, max: px.tmax, afterFit: pinScale(1502 - px.bottom),
            afterBuildTicks: s => { s.ticks = [0,5,10,15,20,25,30].map(v => ({value: v})); },
            grid: {display: false, drawTicks: false}, border: {display: false},
            ticks: {padding: 9, autoSkip: false, maxRotation: 0, color: '#222', font: {family: SANS, size: 12.5}}},
        y: {type: 'linear', position: 'left', min: px.wlMin, max: 1560, afterFit: pinScale(px.left),
            afterBuildTicks: s => { s.ticks = [1540,1545,1550,1555,1560].map(v => ({value: v})); },
            grid: {display: false, drawTicks: false}, border: {display: false},
            ticks: {padding: 13, autoSkip: false, color: '#222', font: {family: SANS, size: 12.5}, callback: v => String(v)}},
        y2: {type: 'linear', position: 'right', min: px.dipMin, max: 0, afterFit: pinScale(758 - px.right),
            afterBuildTicks: s => { s.ticks = insetDipTicks.filter(v => v % 5 === 0 && v >= px.dipMin).map(v => ({value: v})); },
            grid: {display: false, drawTicks: false}, border: {display: false},
            ticks: {padding: 12, autoSkip: false, color: '#222', font: {family: SANS, size: 12.5}}}
      }
    }
  });
}

// panel a
const setsA = [{label: labelsA[0], data: pts(wlRedA, redA), borderColor: colorsA[0], borderWidth: 4}];
dipA.forEach((row, i) => {
  setsA.push({label: labelsA[i + 1], data: curve(wlLeftA, leftA, wlDipA, row, wlRightA, rightA),
    borderColor: colorsA[i + 1], borderWidth: i === 30 ? 3 : 2.4});
});
mainChart({top: 13, bottom: 473, ymax: 0}, setsA, {
  topLine: true, titleY: 245, tag: '(a)', tagX: 135, tagY: 67,
  cycle: ['1', 'st', ' cycle'], cycleX: 225, cycleY: 127, cycleSize: 17, textSx: 0.85, textSize: 13.5,
  rows: 16, rowY: 150, rowH: 20.67, col1: [128, 161, 167], col2: [250, 283, 290]
});

// panel b
const setsB = dipB.map((row, i) => ({label: labelsB[i], data: curve(wlLeftB, leftB, wlDipB, row, wlRightB, rightB),
  borderColor: colorsB[i], borderWidth: i === 29 ? 3.2 : 2.4}));
mainChart({top: 473, bottom: 933, ymax: 1.995}, setsB, {
  shortBottom: true, titleY: 715, tag: '(b)', tagX: 135, tagY: 508,
  cycle: ['2', 'nd', ' cycle'], cycleX: 217, cycleY: 590, cycleSize: 17, textSx: 0.97, textSize: 13.5,
  rows: 15, rowY: 614, rowH: 21.64, col1: [127, 166, 174], col2: [223, 262, 270]
});

// panel c
const setsC = dipC.map((row, i) => ({label: labelsC[i], data: curve(wlLeftC, leftC, wlDipC, row, wlRightC, rightC),
  borderColor: colorsC[i], borderWidth: i === 29 ? 3.2 : 2.4}));
mainChart({top: 933, bottom: 1392, ymax: 2.92}, setsC, {
  shortBottom: true, xAxis: true, titleY: 1190, tag: '(c)', tagX: 136, tagY: 968,
  cycle: ['3', 'rd', ' cycle'], cycleX: 221, cycleY: 1057, cycleSize: 17, textSx: 0.97, textSize: 13.5,
  rows: 15, rowY: 1080, rowH: 21.1, col1: [130, 169, 177], col2: [227, 266, 273]
});

// insets
insetChart({left: 476, right: 677, top: 277, bottom: 427, tmax: 30.9, wlMin: 1539.02, dipMin: -25},
  timeA, wlInA, dipInA, fit1XA, fit1YA, fit2XA, fit2YA, {
  leftX: 425, leftY: 352, rightX: 716, rightY: 353, timeX: 581, timeY: 458,
  cycle: ['SLPFG ; 1', 'st', ' cycle'], cycleX: 615, cycleY: 299,
  markX: 580, markY: [313, 324], labX: 609, lineX: [517, 540], lineY: [402, 414], fitX: 545,
  fits: ['Linear: Y = 0.4598*X - 21.908', 'Linear: Y = 0.0633*X - 13.704']
});
insetChart({left: 477, right: 683, top: 734, bottom: 888, tmax: 31.2, wlMin: 1539.07, dipMin: -22},
  timeB, wlInB, dipInB, fit1XB, fit1YB, fit2XB, fit2YB, {
  leftX: 428, leftY: 812, rightX: 720, rightY: 812, timeX: 579, timeY: 919,
  cycle: ['SLPFG ; 2', 'nd', ' cycle'], cycleX: 612, cycleY: 753,
  markX: 576, markY: [767, 779], labX: 606, lineX: [522, 545], lineY: [862, 876], fitX: 550,
  fits: ['Linear:Y = 0.3211*X - 17.7808', 'Linear:Y = 0.1289*X - 14.4853']
});
insetChart({left: 479, right: 679, top: 1195, bottom: 1345, tmax: 30, wlMin: 1537.3, dipMin: -21.7},
  timeC, wlInC, dipInC, fit1XC, fit1YC, fit2XC, fit2YC, {
  leftX: 427, leftY: 1277, rightX: 719, rightY: 1273, timeX: 580, timeY: 1379,
  cycle: ['SLPFG ; 3', 'rd', ' cycle'], cycleX: 609, cycleY: 1213,
  markX: 576, markY: [1229, 1243], labX: 605, lineX: [516, 544], lineY: [1316, 1331], fitX: 550,
  fits: ['Linear:Y = 0.2734*X - 15.6583', 'Linear:Y = 0.1016*X - 12.6811']
});
</script>
</body>
</html>
